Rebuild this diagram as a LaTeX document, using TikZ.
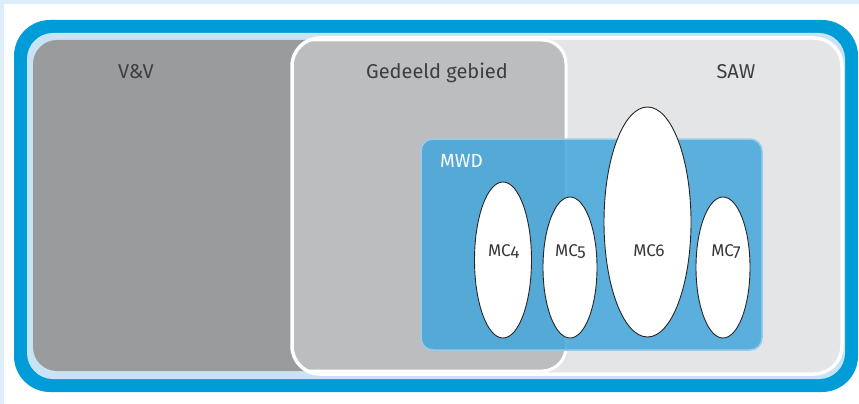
\documentclass[tikz,border=0pt]{standalone}
\usepackage{fontspec}
\setmainfont{Fira Sans}[Numbers=OldStyle]
\usetikzlibrary{shapes.geometric}
\definecolor{lightbg}{RGB}{221,238,250}
\definecolor{mblue}{RGB}{0,156,215}
\definecolor{paleblue}{RGB}{200,228,244}
\definecolor{vvgray}{RGB}{154,155,157}
\definecolor{midgray}{RGB}{188,189,191}
\definecolor{sawgray}{RGB}{228,229,230}
\definecolor{mwdblue}{RGB}{66,166,220}
\definecolor{mwdrim}{RGB}{150,205,236}
\definecolor{titlegray}{RGB}{62,62,64}
\definecolor{labelgray}{RGB}{55,55,57}
\begin{document}
\begin{tikzpicture}[x=1pt,y=-1pt,
  mcell/.style={ellipse, draw=black!85, line width=0.9pt, fill=white, inner sep=0pt},
  title/.style={anchor=base, text=titlegray, inner sep=0pt, font=\fontsize{20}{24}\selectfont},
  mclabel/.style={anchor=base, text=labelgray, inner sep=0pt, font=\fontsize{17}{20}\selectfont},
  region/.style={rounded corners=24pt}]
\useasboundingbox (0,0) rectangle (859,404);
% page
\fill[lightbg] (0,0) rectangle (859,404);
\fill[white] (4,4) rectangle (859,404);
% outer frame
\fill[mblue, rounded corners=36pt] (14,20) rectangle (858,392);
\fill[paleblue, rounded corners=26pt] (27,33) rectangle (845,379);
% V&V
\fill[vvgray, region] (33,40) rectangle (566,371);
% SAW
\fill[sawgray, rounded corners=28pt] (292,38) rectangle (842,374);
% shared area
\begin{scope}
  \clip[rounded corners=28pt] (292,38) rectangle (842,374);
  \fill[midgray, region] (33,40) rectangle (566,371);
  \draw[white, line width=3pt, region] (33,40) rectangle (566,371);
\end{scope}
\draw[white, line width=3.5pt, rounded corners=28pt] (292,38) rectangle (842,374);
% MWD
\fill[mwdblue, opacity=0.85, rounded corners=12pt] (421,139) rectangle (762,350);
\draw[mwdrim, line width=1.5pt, rounded corners=12pt] (421,139) rectangle (762,350);
% titles
\node[title] (vv) at (136,78) {V\&V};
\node[title] (ged) at (437,78) {Gedeeld gebied};
\node[title] (saw) at (736,78) {SAW};
\node[anchor=base west, text=white, inner sep=0pt, font=\fontsize{19}{22}\selectfont] (mwd) at (440,167) {MWD};
% cells
\node[mcell, minimum width=57pt, minimum height=156pt] (mc4) at (503,260) {};
\node[mcell, minimum width=54pt, minimum height=141pt] (mc5) at (570,267.5) {};
\node[mcell, minimum width=87pt, minimum height=230pt] (mc6) at (647.5,222) {};
\node[mcell, minimum width=54pt, minimum height=141pt] (mc7) at (723,267.5) {};
\node[mclabel] (l4) at (503.5,256) {MC4};
\node[mclabel] (l5) at (570.5,256) {MC5};
\node[mclabel] (l6) at (649,256) {MC6};
\node[mclabel] (l7) at (726,256) {MC7};
\end{tikzpicture}
\end{document}
